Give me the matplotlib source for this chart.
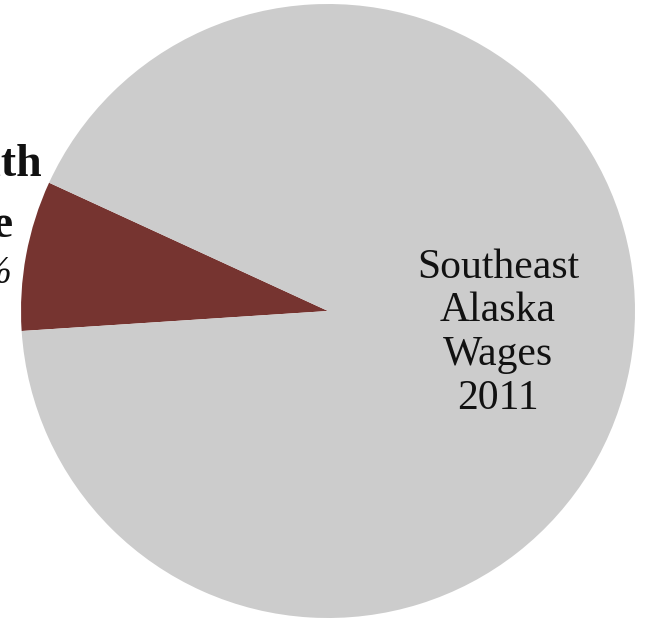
import numpy as np
import matplotlib.pyplot as plt

# 饼图数据：东南阿拉斯加2011年工资占比
labels = ["Health Care", "Southeast Alaska Wages 2011"]
values = [7.9, 92.1]
colors = ["#763430", "#cccccc"]

W, H = 646, 621
cx, cy, r = 328, 311, 307

fig = plt.figure(figsize=(W / 100, H / 100), dpi=100)
ax = fig.add_axes([(cx - r) / W, (H - cy - r) / H, 2 * r / W, 2 * r / H])
wedges, _ = ax.pie(values, colors=colors, startangle=155.3, counterclock=True,
                   radius=1.0, wedgeprops=dict(linewidth=0))
ax.set_xlim(-1, 1)
ax.set_ylim(-1, 1)
ax.set_aspect("auto")
ax.axis("off")


def px(x, y):
    # 像素坐标换算成数据坐标
    return (x - cx) / r, (cy - y) / r


serif = ["Liberation Serif", "DejaVu Serif"]

# 大扇区内的标签
x, y = px(498, 333)
ax.text(x, y, "Southeast\nAlaska\nWages\n2011", ha="center", va="center",
        fontsize=30, family=serif, linespacing=1.17, color="#111111")

# 左侧被裁切的小扇区标签
for txt, rx, by, style, weight, size in [
    ("Health", 42, 176, "normal", "bold", 33),
    ("Care", 14, 237, "normal", "bold", 33),
    ("8%", 12, 283, "italic", "normal", 28),
]:
    x, y = px(rx, by)
    ax.text(x, y, txt, ha="right", va="baseline", fontsize=size, family=serif,
            fontweight=weight, fontstyle=style, color="#111111", clip_on=False)

fig.savefig("out.png", dpi=100)
